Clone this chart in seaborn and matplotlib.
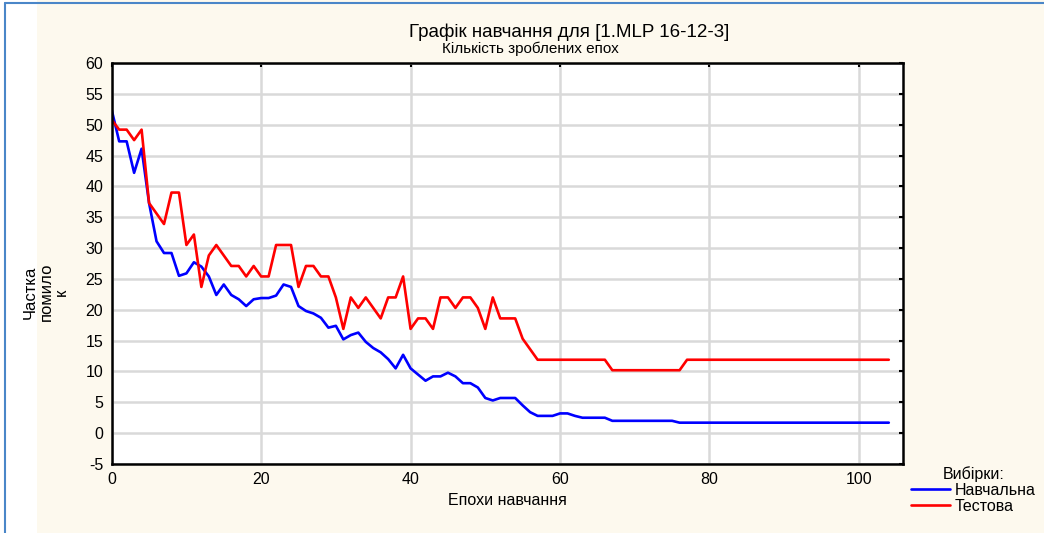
import matplotlib
matplotlib.use("Agg")
import matplotlib.pyplot as plt
import seaborn as sns
import numpy as np
import pandas as pd

# values (error %, one point per epoch 0..104)
train_err = [52.4, 47.3, 47.3, 42.2, 46.1, 37.3, 31.1, 29.2, 29.2, 25.5,
             25.9, 27.7, 27.0, 25.4, 22.4, 24.1, 22.4, 21.7, 20.6, 21.7,
             21.9, 21.9, 22.3, 24.1, 23.7, 20.6, 19.8, 19.4, 18.7, 17.1,
             17.4, 15.2, 15.9, 16.3, 14.8, 13.8, 13.1, 12.0, 10.5, 12.7,
             10.5, 9.5, 8.5, 9.2, 9.2, 9.8, 9.2, 8.1, 8.1, 7.4,
             5.7, 5.3, 5.7, 5.7, 5.7, 4.5, 3.4, 2.8, 2.8, 2.8,
             3.2, 3.2, 2.8, 2.5, 2.5, 2.5, 2.5, 2.0, 2.0, 2.0,
             2.0, 2.0, 2.0, 2.0, 2.0, 2.0, 1.7, 1.7, 1.7, 1.7,
             1.7, 1.7, 1.7, 1.7, 1.7, 1.7, 1.7, 1.7, 1.7, 1.7,
             1.7, 1.7, 1.7, 1.7, 1.7, 1.7, 1.7, 1.7, 1.7, 1.7,
             1.7, 1.7, 1.7, 1.7, 1.7]
test_err = [50.8, 49.2, 49.2, 47.5, 49.2, 37.3, 35.6, 33.9, 39.0, 39.0,
            30.5, 32.2, 23.7, 28.8, 30.5, 28.8, 27.1, 27.1, 25.4, 27.1,
            25.4, 25.4, 30.5, 30.5, 30.5, 23.7, 27.1, 27.1, 25.4, 25.4,
            22.0, 16.9, 22.0, 20.3, 22.0, 20.3, 18.6, 22.0, 22.0, 25.4,
            16.9, 18.6, 18.6, 16.9, 22.0, 22.0, 20.3, 22.0, 22.0, 20.3,
            16.9, 22.0, 18.6, 18.6, 18.6, 15.3, 13.6, 11.9, 11.9, 11.9,
            11.9, 11.9, 11.9, 11.9, 11.9, 11.9, 11.9, 10.2, 10.2, 10.2,
            10.2, 10.2, 10.2, 10.2, 10.2, 10.2, 10.2, 11.9, 11.9, 11.9,
            11.9, 11.9, 11.9, 11.9, 11.9, 11.9, 11.9, 11.9, 11.9, 11.9,
            11.9, 11.9, 11.9, 11.9, 11.9, 11.9, 11.9, 11.9, 11.9, 11.9,
            11.9, 11.9, 11.9, 11.9, 11.9]
epochs = list(range(len(train_err)))
series_names = ["Навчальна", "Тестова"]

df = pd.DataFrame({
    "epoch": epochs * 2,
    "err": train_err + test_err,
    "set": [series_names[0]] * len(epochs) + [series_names[1]] * len(epochs),
})

sns.set_style("white")
plt.rcParams["font.family"] = ["Liberation Sans", "DejaVu Sans"]
plt.rcParams["axes.unicode_minus"] = False
plt.rcParams["text.color"] = "black"
plt.rcParams["axes.labelcolor"] = "black"
plt.rcParams["xtick.color"] = "black"
plt.rcParams["ytick.color"] = "black"

bg = "#fdf9ee"
fig = plt.figure(figsize=(10.44, 5.33), dpi=100, facecolor=bg)
# white strip and blue frame at the left/top like the original window
fig.patches.append(plt.Rectangle((0, 0), 37 / 1044, 1, transform=fig.transFigure,
                                 facecolor="white", edgecolor="none", zorder=0))
fig.add_artist(plt.Line2D([5 / 1044, 5 / 1044], [0, 1 - 3 / 533], color="#4a86c8", lw=1.5))
fig.add_artist(plt.Line2D([5 / 1044, 1], [1 - 3 / 533, 1 - 3 / 533], color="#4a86c8", lw=1.5))

ax = fig.add_axes([111.7 / 1044, 1 - 464 / 533, 791.3 / 1044, 401 / 533])
ax.set_facecolor("white")

sns.lineplot(data=df, x="epoch", y="err", hue="set",
             palette={series_names[0]: "#0000ff", series_names[1]: "#ff0000"},
             linewidth=1.9, ax=ax, legend=False)

ax.set_xlim(0, 105.9)
ax.set_ylim(-5, 60)
ax.set_xticks([0, 20, 40, 60, 80, 100])
ax.set_yticks(np.arange(-5, 61, 5))
ax.grid(True, color="#d9d9d9", lw=1.8)
ax.set_axisbelow(True)
for s in ax.spines.values():
    s.set_color("black")
    s.set_linewidth(1.8)
ax.tick_params(direction="in", length=3, width=1.5, top=True, right=True,
               labelsize=11.5, pad=6, colors="black")

ax.set_xlabel("Епохи навчання", fontsize=11.5, color="black")
ax.set_ylabel("")
fig.text(569 / 1044, 1 - 32 / 533, "Графік навчання для [1.MLP 16-12-3]",
         ha="center", va="center", fontsize=13.5, color="black")
fig.text(530 / 1044, 1 - 49 / 533, "Кількість зроблених епох",
         ha="center", va="center", fontsize=11, color="black")
fig.text(46 / 1044, 1 - 292 / 533, "Частка\nпомило\nк", rotation=90,
         ha="center", va="center", fontsize=12, linespacing=1.05, color="black")

handles = [plt.Line2D([], [], color="#0000ff", lw=1.9),
           plt.Line2D([], [], color="#ff0000", lw=1.9)]
leg = fig.legend(handles, series_names, title="Вибірки:", loc="upper left",
                 bbox_to_anchor=(905 / 1044, 1 - 460 / 533), frameon=False,
                 fontsize=11.5, title_fontsize=11.5, handlelength=2.4,
                 handletextpad=0.3, labelspacing=0.05, borderaxespad=0)
for t in leg.get_texts():
    t.set_color("black")
leg.get_title().set_color("black")

fig.savefig("out.png", dpi=100, facecolor=bg)
